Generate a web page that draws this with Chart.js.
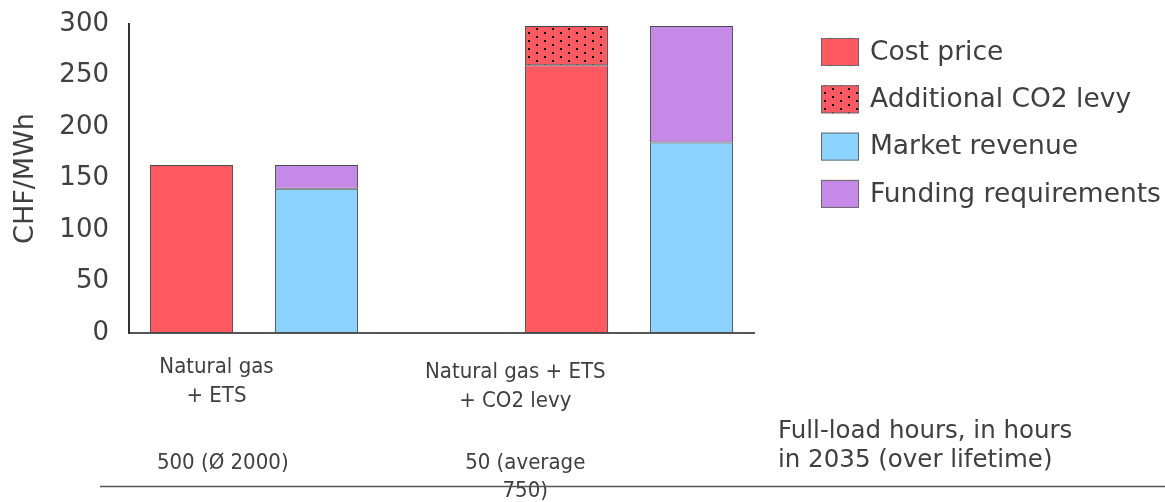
<!DOCTYPE html>
<html>
<head>
<meta charset="utf-8">
<script src="https://cdn.jsdelivr.net/npm/chart.js@4.4.1/dist/chart.umd.min.js"></script>
<style>
  html, body { margin: 0; padding: 0; background: #ffffff; }
  #wrap { position: relative; width: 1165px; height: 502px; }
</style>
</head>
<body>
<div id="wrap"><canvas id="chart" width="1165" height="502"></canvas></div>
<script>
// Five slots along the x axis; the middle one stays empty to separate the two scenarios.
const slots = ['s1', 's2', 'gap', 's3', 's4'];

const costPrice        = [163, null, null, 260, null];
const co2Levy          = [null, null, null, 38, null];
const marketRevenue    = [null, 140, null, null, 185];
const fundingRequired  = [null, 23, null, null, 113];

const seriesNames = ['Cost price', 'Additional CO2 levy', 'Market revenue', 'Funding requirements'];

const yTicks = [0, 50, 100, 150, 200, 250, 300];

const scenarioLabels = [['Natural gas', '+ ETS'], ['Natural gas + ETS', '+ CO2 levy']];
const scenarioAt = [0.2, 2.59];          // position on the slot index scale
const fullLoadLabels = [['500 (Ø 2000)'], ['50 (average', '750)']];
const fullLoadAt = [0.25, 2.67];
const fullLoadCaption = ['Full-load hours, in hours', 'in 2035 (over lifetime)'];

const RED = '#ff5a62', BLUE = '#8cd3ff', PURPLE = '#c589e8', TEXT = '#404040';
const FONT = '"DejaVu Sans", Verdana, sans-serif';
const FONT_NARROW = '"DejaVu Sans Condensed", "DejaVu Sans", sans-serif';

// Red fill sprinkled with small black dots for the levy segment.
function dottedFill() {
  const c = document.createElement('canvas');
  c.width = 16; c.height = 8;
  const g = c.getContext('2d');
  g.fillStyle = RED; g.fillRect(0, 0, 16, 8);
  g.fillStyle = '#000000';
  g.fillRect(0, 0, 2, 2);
  g.fillRect(8, 4, 2, 2);
  return g.createPattern(c, 'repeat');
}
const dots = dottedFill();

const bar = (label, data, fill) => ({
  label, data, backgroundColor: fill,
  borderColor: '#4a4a4a', borderWidth: 1, borderSkipped: false,
  categoryPercentage: 1.0, barPercentage: 0.665, stack: 'one'
});

const annotations = {
  id: 'annotations',
  afterDraw(chart) {
    const ctx = chart.ctx;
    const x = chart.scales.x;
    ctx.save();
    ctx.fillStyle = TEXT;
    ctx.textAlign = 'center';
    ctx.textBaseline = 'middle';
    ctx.font = '22px ' + FONT_NARROW;
    scenarioLabels.forEach((lines, i) => {
      const px = x.getPixelForValue(scenarioAt[i]);
      lines.forEach((t, k) => ctx.fillText(t, px, 367 + i * 5 + k * 29));
    });
    fullLoadLabels.forEach((lines, i) => {
      const px = x.getPixelForValue(fullLoadAt[i]);
      lines.forEach((t, k) => ctx.fillText(t, px, 463 + k * 28));
    });
    ctx.textAlign = 'left';
    ctx.font = '24.5px ' + FONT;
    fullLoadCaption.forEach((t, k) => ctx.fillText(t, 778, 432 + k * 29));

    // baseline under the full-load row
    ctx.strokeStyle = '#555555';
    ctx.lineWidth = 1.5;
    ctx.beginPath();
    ctx.moveTo(100, 486.5);
    ctx.lineTo(1165, 486.5);
    ctx.stroke();

    // legend
    ctx.font = '26.5px ' + FONT;
    ctx.textBaseline = 'middle';
    chart.data.datasets.forEach((ds, i) => {
      const cy = 52 + i * 47.3;
      ctx.fillStyle = ds.backgroundColor;
      ctx.fillRect(821, cy - 14, 38, 28);
      ctx.strokeStyle = '#6a6a6a';
      ctx.lineWidth = 1;
      ctx.strokeRect(821.5, cy - 13.5, 37, 27);
      ctx.fillStyle = TEXT;
      ctx.fillText(ds.label, 870, cy + 1);
    });
    ctx.restore();
  }
};

new Chart(document.getElementById('chart'), {
  type: 'bar',
  data: {
    labels: slots,
    datasets: [
      bar(seriesNames[0], costPrice, RED),
      bar(seriesNames[1], co2Levy, dots),
      bar(seriesNames[2], marketRevenue, BLUE),
      bar(seriesNames[3], fundingRequired, PURPLE)
    ]
  },
  options: {
    responsive: false,
    animation: false,
    layout: { padding: { top: 24, right: 411, left: 10, bottom: 0 } },
    plugins: { legend: { display: false }, tooltip: { enabled: false } },
    scales: {
      x: {
        stacked: true,
        grid: { display: false, drawTicks: false },
        border: { display: true, color: '#555555', width: 2 },
        ticks: { display: false },
        afterFit(s) { s.height = 169; s.paddingLeft = 0; s.paddingRight = 0; }
      },
      y: {
        stacked: true,
        min: 0, max: 300,
        afterBuildTicks(s) { s.ticks = yTicks.map(v => ({ value: v })); },
        grid: { display: false, drawTicks: false },
        border: { display: true, color: '#333333', width: 2 },
        ticks: { color: TEXT, padding: 20, font: { family: FONT, size: 26 } },
        title: { display: true, text: 'CHF/MWh', color: TEXT, padding: { top: 0, bottom: 0 },
                 font: { family: FONT, size: 27 } },
        afterFit(s) { s.width = 119; s.paddingTop = 0; s.paddingBottom = 0; }
      }
    }
  },
  plugins: [annotations]
});
</script>
</body>
</html>
